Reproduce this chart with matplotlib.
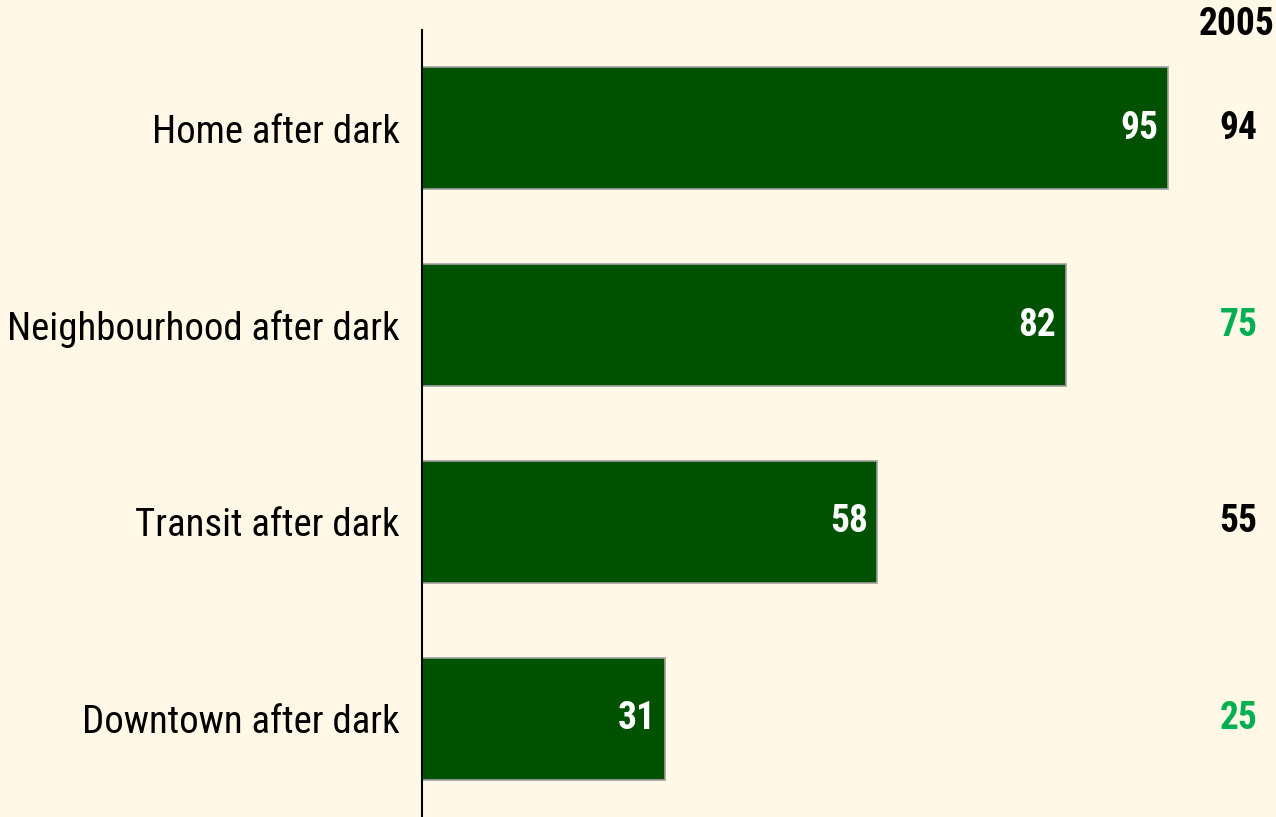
import matplotlib
matplotlib.use("Agg")
import matplotlib.pyplot as plt
from matplotlib import font_manager

categories = ["Home after dark", "Neighbourhood after dark", "Transit after dark", "Downtown after dark"]
values_current = [95, 82, 58, 31]
values_2005 = [94, 75, 55, 25]
colors_2005 = ["#000000", "#00B050", "#000000", "#00B050"]
col_header = "2005"

ents = font_manager.fontManager.ttflist
bold_fams = {f.name for f in ents if (f.weight in (700, "bold") or f.weight == 700) and "Italic" not in f.fname}
all_fams = {f.name for f in ents}
prefs = ["Liberation Sans Narrow", "Arimo Narrow", "Roboto Condensed", "Open Sans Condensed",
         "Barlow Semi Condensed", "Asap Condensed", "Barlow Condensed"]
chosen = None
for p in prefs:
    if p in all_fams and p in bold_fams:
        chosen = p
        break
fam = ([chosen] if chosen else []) + ["Liberation Sans", "DejaVu Sans"]
plt.rcParams["font.family"] = fam

bg = "#FFF8E7"
fig = plt.figure(figsize=(12.76, 8.17), dpi=100, facecolor=bg)
ax = fig.add_axes([422/1276, 0, 785/1276, 787/817])
ax.set_facecolor(bg)

y = list(range(len(categories)))
ax.barh(y, values_current, height=0.62, color="#005200", edgecolor="#A0A0A0", linewidth=1.2)
ax.set_xlim(0, 100)
ax.set_ylim(3.5, -0.5)

vsize = 27
for yi, v in zip(y, values_current):
    ax.text(v - 1.2, yi, str(v), ha="right", va="center", color="white",
            fontsize=vsize, fontweight="bold")
for yi, v, c in zip(y, values_2005, colors_2005):
    ax.text(104, yi, str(v), ha="center", va="center", color=c,
            fontsize=vsize, fontweight="bold", clip_on=False)
fig.text(1275/1276, 1 - 6/817, col_header, ha="right", va="top", color="black",
         fontsize=vsize, fontweight="bold")

ax.set_yticks(y)
ax.set_yticklabels(categories, fontsize=28)
ax.tick_params(axis="y", length=0, pad=16)
ax.set_xticks([])
for s in ["top", "right", "bottom"]:
    ax.spines[s].set_visible(False)
ax.spines["left"].set_linewidth(1.5)
ax.spines["left"].set_color("black")

fig.savefig("out.png", dpi=100, facecolor=bg)
